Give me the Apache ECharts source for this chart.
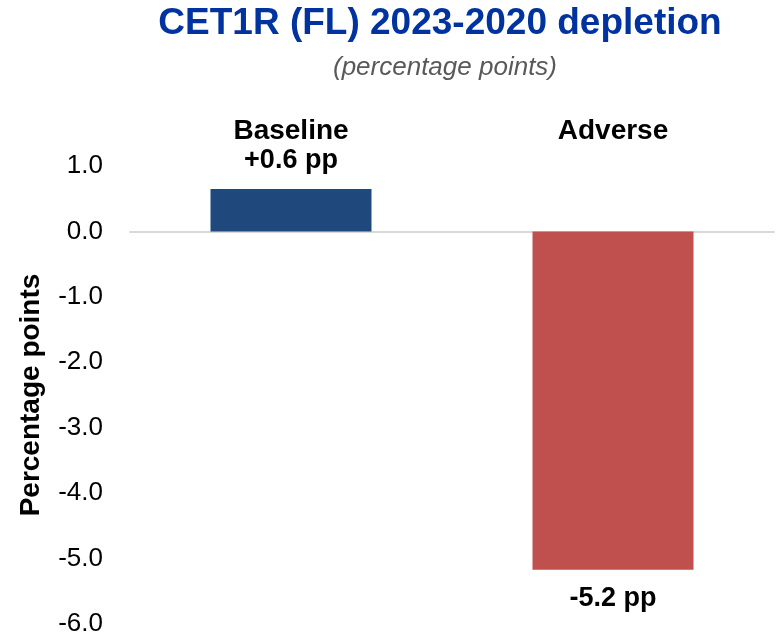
<!DOCTYPE html>
<html>
<head>
<meta charset="utf-8">
<script src="https://cdn.jsdelivr.net/npm/echarts@6/dist/echarts.min.js"></script>
<style>html,body{margin:0;padding:0;background:#fff}#c{width:776px;height:637px}</style>
</head>
<body>
<div id="c"></div>
<script>
const categories = ['Baseline', 'Adverse'];
const values = [0.65, -5.17];
const valueLabels = ['+0.6 pp', '-5.2 pp'];
const barColors = ['#1F497D', '#C0504D'];
const yMin = -6, yMax = 1, yStep = 1;

const FONT = '"Liberation Sans", Arial, sans-serif';
const chart = echarts.init(document.getElementById('c'));
chart.setOption({
  animation: false,
  graphic: [
    {type: 'text', x: 440, y: 24, style: {text: 'CET1R (FL) 2023-2020 depletion', font: 'bold 37px ' + FONT, fill: '#0033A0', textAlign: 'center', textVerticalAlign: 'middle'}},
    {type: 'text', x: 445, y: 68, style: {text: '(percentage points)', font: 'italic 26px ' + FONT, fill: '#595959', textAlign: 'center', textVerticalAlign: 'middle'}}
  ],
  grid: {left: 130, right: 2, top: 166, bottom: 10, containLabel: false},
  xAxis: [
    {type: 'category', data: categories, axisLine: {onZero: true, lineStyle: {color: '#D9D9D9', width: 2}}, axisTick: {show: false}, axisLabel: {show: false}, splitLine: {show: false}},
    {type: 'category', data: categories, position: 'top', axisLine: {show: false}, axisTick: {show: false}, axisLabel: {show: true, margin: 21, color: '#000', fontFamily: FONT, fontWeight: 'bold', fontSize: 28}}
  ],
  yAxis: {
    type: 'value', min: yMin, max: yMax, interval: yStep,
    name: 'Percentage points', nameLocation: 'middle', nameGap: 85, nameRotate: 90,
    nameTextStyle: {color: '#000', fontFamily: FONT, fontWeight: 'bold', fontSize: 28},
    axisLine: {show: false}, axisTick: {show: false}, splitLine: {show: false},
    axisLabel: {color: '#000', fontFamily: FONT, fontSize: 26, margin: 27, formatter: v => v.toFixed(1)}
  },
  series: [{
    type: 'bar', barWidth: '50%', xAxisIndex: 0,
    data: values.map((v, i) => ({
      value: v,
      itemStyle: {color: barColors[i]},
      label: {show: true, position: v >= 0 ? 'top' : 'bottom', distance: 15, formatter: valueLabels[i], color: '#000', fontFamily: FONT, fontWeight: 'bold', fontSize: 27}
    }))
  }]
});
</script>
</body>
</html>
